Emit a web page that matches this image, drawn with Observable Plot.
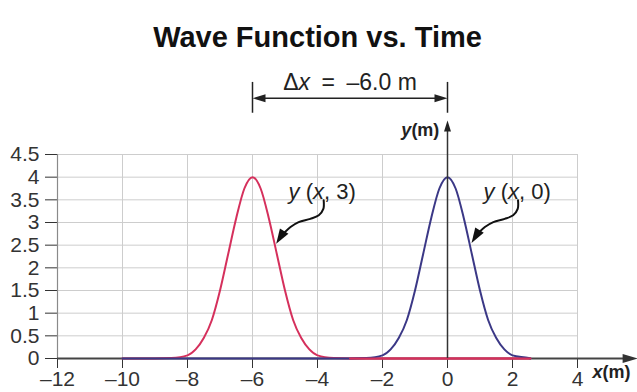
<!DOCTYPE html>
<html><head><meta charset="utf-8">
<script src="https://cdn.jsdelivr.net/npm/d3@7"></script>
<script src="https://cdn.jsdelivr.net/npm/@observablehq/plot@0.6"></script>
<style>
html,body{margin:0;padding:0;background:#fff;}
#chart{width:637px;height:392px;}
</style></head><body><div id="chart"></div>
<script>
// ---- data ----
const title = "Wave Function vs. Time";
const xTicks = [-12, -10, -8, -6, -4, -2, 0, 2, 4];
const yTicks = [0, 0.5, 1, 1.5, 2, 2.5, 3, 3.5, 4, 4.5];
const xGrid = [-10, -8, -6, -4, -2, 2, 4];
const yGrid = [0.5, 1, 1.5, 2, 2.5, 3, 3.5, 4, 4.5];

// pulse at t = 3 s (red), centred at x = -6 m
const redX = [-10, -9, -8.5, -8, -7.75, -7.5, -7.25, -7, -6.75, -6.5, -6.25, -6, -5.75, -5.5, -5.25, -5, -4.75, -4.5, -4.25, -4, -3.5, -3, -2, -1, 0, 1, 2, 2.55];
const redY = [0, 0, 0.01, 0.07, 0.2, 0.45, 0.85, 1.5, 2.3, 3.1, 3.75, 4.0, 3.75, 3.1, 2.3, 1.5, 0.85, 0.45, 0.2, 0.07, 0.01, 0, 0, 0, 0, 0, 0, 0];
// pulse at t = 0 s (blue), centred at x = 0 m
const blueX = [-10, -8, -6, -4, -3, -2.5, -2, -1.75, -1.5, -1.25, -1, -0.75, -0.5, -0.25, 0, 0.25, 0.5, 0.75, 1, 1.25, 1.5, 1.75, 2, 2.5, 2.55];
const blueY = [0, 0, 0, 0, 0, 0.01, 0.07, 0.2, 0.45, 0.85, 1.5, 2.3, 3.1, 3.75, 4.0, 3.75, 3.1, 2.3, 1.5, 0.85, 0.45, 0.2, 0.07, 0.01, 0];

// annotation labels and their curved pointers
const labelText = ["y (x, 3)", "y (x, 0)"];
const labelX = [-4.89, 1.11];
const labelY = [3.67, 3.67];
const redPointerX = [-3.81, -3.82, -3.96, -4.22, -4.58, -4.83, -5.12];
const redPointerY = [3.49, 3.30, 3.16, 3.08, 3.01, 2.90, 2.70];
const bluePointerX = [2.17, 2.16, 2.02, 1.76, 1.41, 1.15, 0.86];
const bluePointerY = [3.49, 3.30, 3.16, 3.08, 3.01, 2.90, 2.70];
const pointerTipX = [-5.27, 0.74];
const pointerTipY = [2.53, 2.55];

// displacement annotation
const deltaText = "Δx = –6.0 m";
const deltaFrom = -6, deltaTo = 0;
const deltaLineY = 5.74, deltaExtLow = 5.41, deltaExtHigh = 6.09, deltaTextY = 6.09;

// axis extents (arrows)
const xAxisEnd = 5.85, yAxisEnd = 5.25;

const red = "#d5305c", blue = "#3b3886", ink = "#222";

// ---- helpers ----
function head(angle, L, w) {
  const a = angle * Math.PI / 180, c = Math.cos(a), s = Math.sin(a);
  const rot = (x, y) => [x * c - y * s, x * s + y * c];
  return {draw(ctx) {
    const p1 = rot(-w, L), p2 = rot(w, L);
    ctx.moveTo(0, 0); ctx.lineTo(p1[0], p1[1]); ctx.lineTo(p2[0], p2[1]); ctx.closePath();
  }};
}
const redData = redX.map((x, i) => ({x, y: redY[i]}));
const blueData = blueX.map((x, i) => ({x, y: blueY[i]}));
const labels = labelText.map((t, i) => ({t, x: labelX[i], y: labelY[i]}));
const redPtr = redPointerX.map((x, i) => ({x, y: redPointerY[i]}));
const bluePtr = bluePointerX.map((x, i) => ({x, y: bluePointerY[i]}));
const tips = pointerTipX.map((x, i) => ({x, y: pointerTipY[i]}));
const fmtX = d => d < 0 ? "–" + Math.abs(d) : String(d);

const plot = Plot.plot({
  width: 637, height: 392,
  marginLeft: 57, marginRight: 60, marginTop: 154, marginBottom: 34,
  style: {fontFamily: "'Liberation Sans', Arial, sans-serif", fontSize: "21px", color: "#333", background: "#fff", overflow: "visible"},
  x: {domain: [-12, 4], ticks: xTicks, tickFormat: fmtX, tickSize: 10, tickPadding: 3, label: null},
  y: {domain: [0, 4.5], ticks: yTicks, tickFormat: d => String(d), tickSize: 12, tickPadding: 6, label: null},
  marks: [
    Plot.ruleY(yGrid, {x1: -12, x2: 4, stroke: "#cdcdcd", strokeWidth: 1}),
    Plot.ruleX(xGrid, {y1: 0, y2: 4.5, stroke: "#cdcdcd", strokeWidth: 1}),
    Plot.ruleX([-12], {y1: 0, y2: 4.5, stroke: "#8a8a8a", strokeWidth: 1.2}),
    // x axis with arrow
    Plot.ruleY([0], {x1: -12, x2: xAxisEnd - 0.3, stroke: "#444", strokeWidth: 2}),
    Plot.dot([{x: xAxisEnd, y: 0}], {x: "x", y: "y", symbol: head(90, 15, 4.5), r: 5, fill: "#333", stroke: "none"}),
    // curves
    Plot.line(redData, {x: "x", y: "y", stroke: red, strokeWidth: 2, curve: "monotone-x"}),
    Plot.line(blueData, {x: "x", y: "y", stroke: blue, strokeWidth: 2, curve: "monotone-x"}),
    Plot.line(redData, {filter: d => d.x >= -3, x: "x", y: "y", stroke: red, strokeWidth: 2, curve: "monotone-x"}),
    // y axis with arrow at x = 0
    Plot.ruleX([0], {y1: 0, y2: yAxisEnd - 0.15, stroke: "#333", strokeWidth: 1.5}),
    Plot.dot([{x: 0, y: yAxisEnd}], {x: "x", y: "y", symbol: head(0, 11, 3.5), r: 5, fill: "#222", stroke: "none"}),
    Plot.text(["y(m)"], {x: -0.25, y: 5.03, text: d => d, textAnchor: "end", fontWeight: "bold", fontSize: 18, fill: ink}),
    Plot.text(["x(m)"], {x: 4.46, y: -0.3, text: d => d, textAnchor: "start", fontWeight: "bold", fontSize: 18, fill: ink}),
    // labels and pointers
    Plot.text(labels, {x: "x", y: "y", text: "t", textAnchor: "start", fontSize: 22, fill: ink}),
    Plot.line(redPtr, {x: "x", y: "y", stroke: "#111", strokeWidth: 2, curve: "catmull-rom"}),
    Plot.line(bluePtr, {x: "x", y: "y", stroke: "#111", strokeWidth: 2, curve: "catmull-rom"}),
    Plot.dot(tips, {x: "x", y: "y", symbol: head(212, 15, 5), r: 5, fill: "#111", stroke: "none"}),
    // displacement annotation
    Plot.ruleX([deltaFrom, deltaTo], {y1: deltaExtLow, y2: deltaExtHigh, stroke: ink, strokeWidth: 1.5}),
    Plot.ruleY([deltaLineY], {x1: deltaFrom + 0.2, x2: deltaTo - 0.2, stroke: ink, strokeWidth: 1.5}),
    Plot.dot([{x: deltaFrom, y: deltaLineY}], {x: "x", y: "y", symbol: head(-90, 13, 4), r: 5, fill: ink, stroke: "none"}),
    Plot.dot([{x: deltaTo, y: deltaLineY}], {x: "x", y: "y", symbol: head(90, 13, 4), r: 5, fill: ink, stroke: "none"}),
    Plot.text([deltaText], {x: (deltaFrom + deltaTo) / 2, y: deltaTextY, text: d => d, fontSize: 23, fill: ink}),
    // title
    Plot.text([title], {frameAnchor: "top", dy: -128, text: d => d, fontSize: 29, fontWeight: "bold", fill: "#111"})
  ]
});

// italic variables inside texts
const rich = {
  "y (x, 3)": [["y", 1], [" (", 0], ["x", 1], [", 3)", 0]],
  "y (x, 0)": [["y", 1], [" (", 0], ["x", 1], [", 0)", 0]],
  "y(m)": [["y", 1], ["(m)", 0]],
  "x(m)": [["x", 1], ["(m)", 0]],
  [deltaText]: [["Δ", 0], ["x", 1], ["\u2002=\u2002–6.0 m", 0]]
};
d3.select(plot).selectAll("text").each(function() {
  const parts = rich[this.textContent];
  if (!parts) return;
  this.textContent = "";
  for (const [s, it] of parts) d3.select(this).append("tspan").attr("font-style", it ? "italic" : null).text(s);
});
document.getElementById("chart").appendChild(plot);
</script>
</body></html>
